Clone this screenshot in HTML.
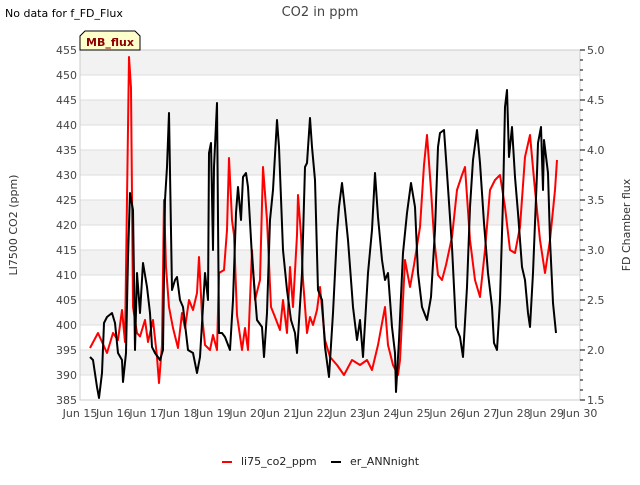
<!DOCTYPE html>
<html><head><meta charset="utf-8"><style>
body{margin:0;background:#fff;font-family:"Liberation Sans","DejaVu Sans",sans-serif;}
svg text{font-family:"DejaVu Sans","Liberation Sans",sans-serif;}
</style></head><body>
<svg id="chart" width="640" height="480" xmlns="http://www.w3.org/2000/svg">
<rect width="640" height="480" fill="#fff"/>
<g id="bands"></g>
<g id="grid"></g>
<rect x="80" y="50" width="500" height="350" fill="none" stroke="#ccc"/>
<g id="xaxis" font-size="11" fill="#444"></g>
<g id="yleft" font-size="11" fill="#444"></g>
<g id="yright" font-size="11" fill="#444"></g>
<g id="series"></g>
<text x="320" y="16" text-anchor="middle" font-size="13" fill="#444">CO2 in ppm</text>
<text x="5" y="17" font-size="11" fill="#000">No data for f_FD_Flux</text>
<text transform="translate(17,225) rotate(-90)" text-anchor="middle" font-size="11" fill="#333">LI7500 CO2 (ppm)</text>
<text transform="translate(630,225) rotate(-90)" text-anchor="middle" font-size="11" fill="#333">FD Chamber flux</text>
<g>
<path d="M80,50 L80,36 L85,31 L135,31 L140,36 L140,50 Z" fill="#ffffcc" stroke="#000"/>
<text x="110" y="46" text-anchor="middle" font-size="11" font-weight="bold" fill="#8b0000">MB_flux</text>
</g>
<g font-size="11" fill="#222">
<g><line x1="222" y1="462" x2="232" y2="462" stroke="#f00" stroke-width="2"/><text x="241" y="465">li75_co2_ppm</text></g>
<g><line x1="331" y1="462" x2="341" y2="462" stroke="#000" stroke-width="2"/><text x="350" y="465">er_ANNnight</text></g>
</g>
</svg>
<script>
const xTickLabels=["Jun 15","Jun 16","Jun 17","Jun 18","Jun 19","Jun 20","Jun 21","Jun 22","Jun 23","Jun 24","Jun 25","Jun 26","Jun 27","Jun 28","Jun 29","Jun 30"];
const leftTicks=[385,390,395,400,405,410,415,420,425,430,435,440,445,450,455];
const rightTicks=["1.5","2.0","2.5","3.0","3.5","4.0","4.5","5.0"];
const co2Days=[15.30,15.54,15.81,15.99,16.14,16.26,16.35,16.47,16.53,16.59,16.71,16.80,16.95,17.04,17.19,17.31,17.37,17.46,17.52,17.58,17.67,17.79,17.94,18.06,18.15,18.27,18.39,18.51,18.57,18.66,18.75,18.90,18.99,19.11,19.17,19.32,19.41,19.47,19.56,19.62,19.71,19.86,19.95,20.04,20.16,20.25,20.40,20.49,20.61,20.73,20.85,21.00,21.09,21.21,21.30,21.39,21.51,21.54,21.63,21.69,21.81,21.90,21.99,22.11,22.20,22.35,22.50,22.71,22.92,23.16,23.40,23.61,23.76,23.94,24.15,24.24,24.39,24.54,24.60,24.75,24.90,25.02,25.20,25.32,25.41,25.53,25.62,25.74,25.86,25.98,26.16,26.31,26.46,26.55,26.70,26.85,27.00,27.15,27.30,27.45,27.60,27.75,27.90,28.05,28.20,28.35,28.50,28.65,28.80,28.95,29.10,29.25,29.31];
const co2Values=[395.4,398.4,394.4,398.4,397,403,396.6,453.6,447.4,403.6,398.4,397.7,401,396.6,401,393.6,388.4,396,425,411.6,403.6,399.4,395.4,402.4,399.4,405,403,406.4,413.6,402,396,395,398,395,410.4,411,419,433.4,421,418,402,395,399.4,395,415,405,409,431.6,421,403.6,401.6,399,405,398.4,411.6,403.6,418,426,418,409,398.4,401.6,400,403,407.6,397,393.6,392,390,393,392,393,391,396,403.6,396,392,390,393,413,407.6,412,419.6,432,438,427,417.6,410,409,412,417.6,427,430,431.6,417,409,405.6,415,427,429,430,423.6,415,414.4,419.6,433.6,438,427,417,410.4,417,427,433];
const annDays=[15.30,15.39,15.51,15.57,15.66,15.72,15.81,15.96,16.05,16.14,16.26,16.29,16.38,16.44,16.50,16.59,16.65,16.71,16.80,16.89,17.01,17.10,17.16,17.25,17.40,17.49,17.55,17.61,17.67,17.76,17.85,17.91,18.00,18.09,18.24,18.39,18.51,18.60,18.75,18.84,18.87,18.93,18.99,19.02,19.11,19.17,19.26,19.35,19.50,19.59,19.68,19.74,19.83,19.89,19.98,20.04,20.16,20.31,20.46,20.52,20.61,20.70,20.79,20.91,20.97,21.09,21.21,21.33,21.45,21.51,21.66,21.75,21.81,21.90,21.96,22.05,22.14,22.26,22.35,22.47,22.59,22.71,22.77,22.86,22.95,23.04,23.13,23.19,23.31,23.40,23.49,23.64,23.76,23.85,23.94,24.06,24.15,24.24,24.36,24.45,24.48,24.57,24.69,24.81,24.93,25.05,25.14,25.26,25.41,25.53,25.65,25.74,25.80,25.92,26.01,26.16,26.28,26.40,26.49,26.61,26.70,26.79,26.91,27.00,27.12,27.24,27.36,27.42,27.51,27.60,27.69,27.75,27.81,27.87,27.96,28.05,28.14,28.26,28.35,28.44,28.50,28.59,28.71,28.74,28.83,28.89,28.92,29.04,29.10,29.19,29.28];
const annValues=[1.93,1.9,1.63,1.52,1.77,2.27,2.33,2.37,2.27,1.97,1.9,1.68,1.97,2.93,3.57,3.4,2.0,2.77,2.37,2.87,2.63,2.37,2.03,1.97,1.9,2.0,3.5,3.83,4.37,2.6,2.7,2.73,2.5,2.43,2.0,1.97,1.77,1.93,2.77,2.5,3.97,4.07,3.0,3.83,4.47,2.17,2.17,2.13,2.0,2.5,3.37,3.63,3.3,3.73,3.77,3.63,2.93,2.3,2.23,1.93,2.37,3.3,3.6,4.3,4.03,3.0,2.6,2.3,2.17,1.97,2.77,3.83,3.87,4.32,4.03,3.7,2.6,2.5,2.03,1.73,2.37,3.17,3.43,3.67,3.4,3.1,2.7,2.43,2.1,2.3,1.93,2.77,3.2,3.77,3.33,2.9,2.7,2.77,2.23,1.97,1.58,2.1,2.97,3.37,3.67,3.43,2.77,2.43,2.3,2.53,3.2,4.03,4.17,4.2,3.77,3.03,2.23,2.13,1.93,2.63,3.43,3.9,4.2,3.87,3.27,2.77,2.43,2.07,2.0,2.5,3.5,4.43,4.6,3.93,4.23,3.73,3.37,2.83,2.7,2.37,2.23,2.77,3.77,4.07,4.23,3.6,4.1,3.77,3.1,2.47,2.17];

const NS="http://www.w3.org/2000/svg";
const X0=80,X1=580,Y0=400,Y1=50;
const xS=d=>X0+(d-15)/15*(X1-X0);
const yL=v=>Y0-(v-385)/70*(Y0-Y1);
const yR=v=>Y0-(v-1.5)/3.5*(Y0-Y1);
function mk(tag,attrs,parent){const e=document.createElementNS(NS,tag);for(const k in attrs)e.setAttribute(k,attrs[k]);parent.appendChild(e);return e;}
const bands=document.getElementById('bands'),grid=document.getElementById('grid');
for(let i=0;i<leftTicks.length-1;i++){
  if(i%2===1){const r=mk('rect',{x:X0,y:yL(leftTicks[i+1]),width:X1-X0,height:yL(leftTicks[i])-yL(leftTicks[i+1]),fill:'#f2f2f2'},bands);
  
  }
}
const yl=document.getElementById('yleft');
leftTicks.forEach(v=>{
  const l=mk('line',{x1:X0,x2:X1,y1:yL(v),y2:yL(v),stroke:'#ddd'},grid);
  
  
  const t=mk('text',{x:X0-3,y:yL(v)+4,'text-anchor':'end'},yl);t.textContent=v;
  
  
});
const yr=document.getElementById('yright');
rightTicks.forEach(s=>{
  const v=parseFloat(s);
  const t=mk('text',{x:X1+7,y:yR(v)+4},yr);t.textContent=s;
  
  
});
for(let k=15;k<=50;k++){const v=k/10;const major=k%5===0;
  const l=mk('line',{x1:X1,x2:X1+(major?5:3),y1:yR(v),y2:yR(v),stroke:'#000'},yr);
  
  }
const xa=document.getElementById('xaxis');
xTickLabels.forEach((s,i)=>{
  const t=mk('text',{x:xS(15+i),y:Y0+17,'text-anchor':'middle'},xa);t.textContent=s;
  
  
});
const ser=document.getElementById('series');
const p1=mk('polyline',{points:co2Days.map((d,i)=>xS(d).toFixed(1)+','+yL(co2Values[i]).toFixed(1)).join(' '),fill:'none',stroke:'#f00','stroke-width':2,'stroke-linejoin':'round'},ser);


const p2=mk('polyline',{points:annDays.map((d,i)=>xS(d).toFixed(1)+','+yR(annValues[i]).toFixed(1)).join(' '),fill:'none',stroke:'#000','stroke-width':2,'stroke-linejoin':'round'},ser);


</script>
</body></html>
